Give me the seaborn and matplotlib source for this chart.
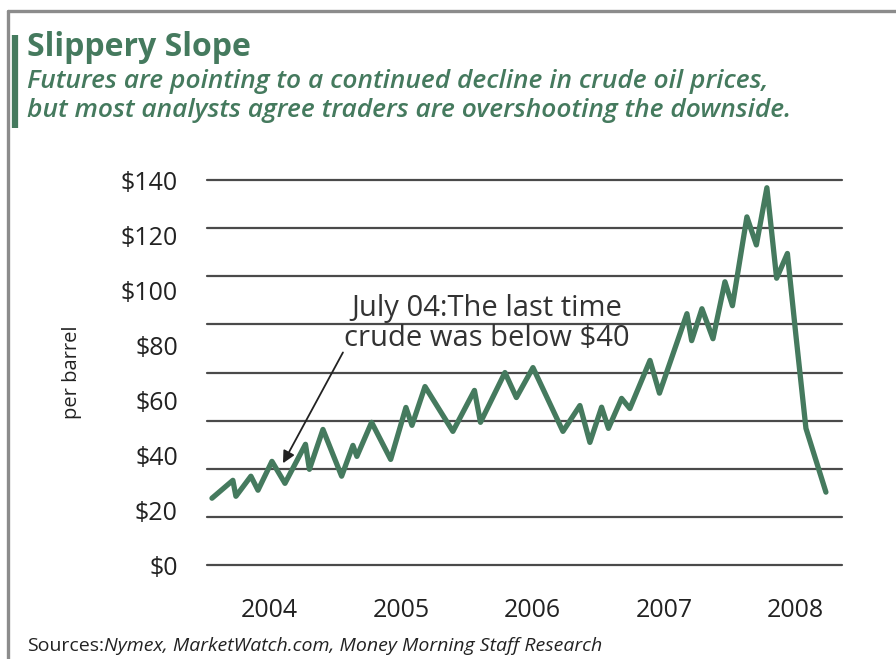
import seaborn as sns
import matplotlib.pyplot as plt
from matplotlib.lines import Line2D

# crude oil price (year as decimal, $ per barrel)
years = [2003.563, 2003.722, 2003.745, 2003.859, 2003.913, 2004.019, 2004.118,
         2004.274, 2004.304, 2004.407, 2004.549, 2004.635, 2004.665, 2004.777,
         2004.922, 2005.038, 2005.084, 2005.183, 2005.395, 2005.559, 2005.605,
         2005.791, 2005.878, 2006.004, 2006.232, 2006.361, 2006.437, 2006.526,
         2006.578, 2006.678, 2006.741, 2006.894, 2006.966, 2007.175, 2007.211,
         2007.289, 2007.373, 2007.464, 2007.521, 2007.631, 2007.703, 2007.783,
         2007.857, 2007.939, 2008.004, 2008.080, 2008.232]
prices = [24.3, 30.8, 25.0, 32.3, 27.2, 37.7, 29.7,
          43.9, 34.8, 49.3, 32.3, 43.5, 39.5, 51.9,
          38.4, 57.3, 50.8, 64.9, 48.6, 63.5, 51.9,
          70.0, 60.9, 71.8, 48.6, 58.0, 44.6, 57.4,
          49.7, 60.6, 56.9, 74.4, 62.5, 91.4, 81.6,
          93.2, 82.3, 103.0, 94.3, 126.6, 116.4, 137.2,
          104.3, 113.3, 83.4, 49.7, 26.5]

year_ticks = [2004, 2005, 2006, 2007, 2008]
price_ticks = [0, 20, 40, 60, 80, 100, 120, 140]
price_labels = ["$" + str(p) for p in price_ticks]

title = "Slippery Slope"
subtitle = ("Futures are pointing to a continued decline in crude oil prices,\n"
            "but most analysts agree traders are overshooting the downside.")
note = "July 04:The last time\ncrude was below $40"
note_tip = (2004.103, 37.0)
note_tail = (2004.559, 77.3)
note_pos = (2005.654, 87.8)

GREEN = "#457a5e"
FRAME = "#8c8c8c"

sns.set_theme(style="white")
plt.rcParams["font.family"] = ["Open Sans", "DejaVu Sans"]

fig = plt.figure(figsize=(8.96, 6.59), dpi=100)
ax = fig.add_axes([0.2310, 0.1426, 0.7087, 0.5842])

# horizontal rules: 9 lines spread over the axis range
for i in range(9):
    ax.axhline(i * 140 / 8, color="#4a4a4a", lw=1.6, zorder=1, clip_on=False)

sns.lineplot(x=years, y=prices, color=GREEN, linewidth=3.8, ax=ax, zorder=3)

ax.set_xlim(2003.525, 2008.354)
ax.set_ylim(0, 140)
ax.set_xticks(year_ticks)
ax.set_xticklabels([str(y) for y in year_ticks])
ax.set_yticks(price_ticks)
ax.set_yticklabels(price_labels)
ax.tick_params(axis="y", length=0, pad=21, labelsize=18, labelcolor="#222222")
ax.tick_params(axis="x", length=0, pad=24, labelsize=18, labelcolor="#222222")
ax.set_xlabel("")
ax.set_ylabel("")
for s in ax.spines.values():
    s.set_visible(False)

ax.text(note_pos[0], note_pos[1], note, ha="center", va="center",
        fontsize=21, color="#333333", linespacing=1.08, zorder=4)
ax.annotate("", xy=note_tip, xytext=note_tail,
            arrowprops=dict(arrowstyle="-|>", color="#222222", lw=1.3,
                            mutation_scale=18, shrinkA=0, shrinkB=0))

fig.text(72 / 896, 1 - 372 / 659, "per barrel", rotation=90, ha="center",
         va="center", fontsize=14.5, color="#222222")

# header
fig.text(27 / 896, 1 - 48 / 659, title, ha="left", va="center",
         fontsize=23, fontweight="bold", color=GREEN)
fig.text(27 / 896, 1 - 96 / 659, subtitle, ha="left", va="center",
         fontsize=19, style="italic", fontweight="semibold", color=GREEN,
         linespacing=1.25)

# sources line
src = fig.text(27 / 896, 1 - 646 / 659, "Sources:", ha="left", va="center",
               fontsize=14, color="#222222")
fig.canvas.draw()
bb = src.get_window_extent()
fig.text(bb.x1 / fig.bbox.width, 1 - 646 / 659,
         "Nymex, MarketWatch.com, Money Morning Staff Research",
         ha="left", va="center", fontsize=14, style="italic", color="#222222")

# page frame and accent bar
fig.add_artist(Line2D([8 / 896, 1], [1 - 11 / 659] * 2, color=FRAME, lw=2.4))
fig.add_artist(Line2D([8 / 896] * 2, [0, 1 - 11 / 659], color=FRAME, lw=2.4))
fig.add_artist(Line2D([15 / 896] * 2, [1 - 35 / 659, 1 - 128 / 659],
                      color=GREEN, lw=4.5, solid_capstyle="butt"))

fig.savefig("out.png", dpi=100)
